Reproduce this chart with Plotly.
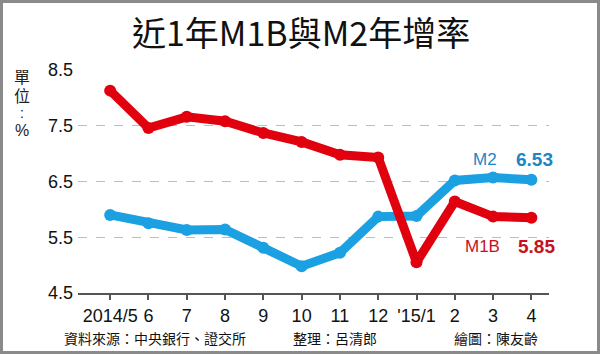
import plotly.graph_objects as go

months = ["2014/5", "6", "7", "8", "9", "10", "11", "12", "'15/1", "2", "3", "4"]
m1b = [8.13, 7.46, 7.66, 7.58, 7.37, 7.21, 6.98, 6.93, 5.05, 6.14, 5.87, 5.85]
m2 = [5.90, 5.75, 5.63, 5.64, 5.31, 4.98, 5.22, 5.87, 5.88, 6.52, 6.57, 6.53]
y_ticks = [4.5, 5.5, 6.5, 7.5, 8.5]

RED = "#e0000e"
RED_TXT = "#c8101e"
BLUE = "#1ba0e2"
BLUE_TXT = "#1b86c6"
FONT = "Noto Sans CJK TC"
UNIT_FONT = "Liberation Sans, Noto Sans CJK TC"

x = list(range(len(months)))
fig = go.Figure()
fig.add_trace(go.Scatter(x=x, y=m2, mode="lines+markers", line=dict(color=BLUE, width=9),
                         marker=dict(color=BLUE, size=12), showlegend=False, cliponaxis=False))
fig.add_trace(go.Scatter(x=x, y=m1b, mode="lines+markers", line=dict(color=RED, width=9),
                         marker=dict(color=RED, size=12), showlegend=False, cliponaxis=False))

L, R, T, B = 78, 51, 70, 61
W, H = 600, 354
pw, ph = W - L - R, H - T - B

def px(xp):
    return (xp - L) / pw

def py(yp):
    return (H - B - yp) / ph

anns = [
    dict(x=px(301), y=py(32), text="近1年M1B與M2年增率", font=dict(size=34, color="#111", family=FONT)),
    dict(x=px(22), y=py(77), text="單", font=dict(size=16, color="#222", family=UNIT_FONT)),
    dict(x=px(22), y=py(96), text="位", font=dict(size=16, color="#222", family=UNIT_FONT)),
    dict(x=px(22), y=py(113), text=":", font=dict(size=14, color="#222", family="Liberation Sans")),
    dict(x=px(22), y=py(130), text="%", font=dict(size=16, color="#222", family="Liberation Sans")),
    dict(x=px(485), y=py(159), text="M2", font=dict(size=17, color=BLUE_TXT, family="Liberation Sans")),
    dict(x=px(534), y=py(159), text="<b>6.53</b>", font=dict(size=19, color=BLUE_TXT, family="Liberation Sans")),
    dict(x=px(482), y=py(246), text="M1B", font=dict(size=17, color=RED_TXT, family="Liberation Sans")),
    dict(x=px(536), y=py(246), text="<b>5.85</b>", font=dict(size=19, color=RED_TXT, family="Liberation Sans")),
    dict(x=px(155), y=py(338), text="資料來源：中央銀行、證交所", font=dict(size=14, color="#111", family=FONT)),
    dict(x=px(335), y=py(338), text="整理：呂清郎", font=dict(size=14, color="#111", family=FONT)),
    dict(x=px(496), y=py(338), text="繪圖：陳友齡", font=dict(size=14, color="#111", family=FONT)),
]
for a in anns:
    a.update(xref="paper", yref="paper", showarrow=False, xanchor="center", yanchor="middle")

fig.update_layout(
    width=W, height=H, margin=dict(l=L, r=R, t=T, b=B),
    paper_bgcolor="white", plot_bgcolor="white",
    annotations=anns,
    shapes=[dict(type="rect", xref="paper", yref="paper",
                 x0=px(1.5), x1=px(W - 1.5), y0=py(H - 1.5), y1=py(1.5),
                 line=dict(color="#8a8a8a", width=3))],
    xaxis=dict(range=[-0.84, 11.46], tickmode="array", tickvals=x, ticktext=months,
               showgrid=False, zeroline=False, showline=True, linecolor="#555", linewidth=2,
               ticks="outside", ticklen=5, tickwidth=1.5, tickcolor="#555",
               tickfont=dict(size=18, color="#111", family="Liberation Sans"), fixedrange=True),
    yaxis=dict(range=[4.5, 8.5], tickmode="array", tickvals=y_ticks, ticktext=[f"{v:.1f}" for v in y_ticks],
               showgrid=True, gridcolor="#bdbdbd", griddash="dash", gridwidth=1,
               zeroline=False, showline=False, ticks="", ticklabelstandoff=4,
               tickfont=dict(size=18, color="#111", family="Liberation Sans"), fixedrange=True),
)
fig.write_html("out.html")
